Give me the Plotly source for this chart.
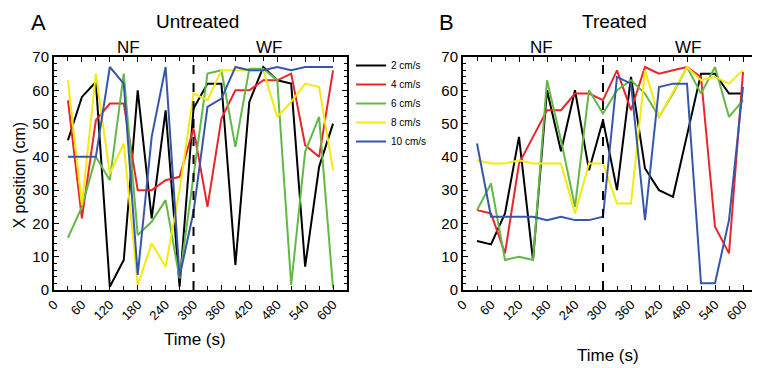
import plotly.graph_objects as go

time_s = [30, 60, 90, 120, 150, 180, 210, 240, 270, 300,
          330, 360, 390, 420, 450, 480, 510, 540, 570, 600]
x_ticks = [0, 60, 120, 180, 240, 300, 360, 420, 480, 540, 600]
series_names = ["2 cm/s", "4 cm/s", "6 cm/s", "8 cm/s", "10 cm/s"]
series_colors = ["#000000", "#e8262b", "#62b947", "#f5e90f", "#3657a8"]

# Untreated (panel A)
untreated_2 = [45, 58, 62.5, 1, 9, 60, 21.5, 54, 1, 54.5, 62, 62, 7.5, 56.5, 67, 63, 62, 7, 37, 50]
untreated_4 = [57, 21.5, 51, 56, 56, 30, 30, 33, 34, 48.5, 25, 51.5, 60, 60, 63, 63, 65, 43.5, 40, 66]
untreated_6 = [15.7, 25, 40, 33, 65, 16.5, 20.5, 27, 3.5, 35, 65, 66, 43, 66.5, 66.5, 63, 1.5, 41.5, 52, 0.5]
untreated_8 = [63, 25.5, 65, 35, 44, 1.5, 14, 7, 30, 59, 57, 66, 66, 66, 66, 52, 56.5, 62, 61, 36]
untreated_10 = [40, 40, 40, 67, 62, 4.5, 46, 67, 4, 23.5, 55, 57.5, 67, 66, 66, 67, 66, 67, 67, 67]

# Treated (panel B)
treated_2 = [14.7, 13.7, 23, 46, 9, 60, 41.7, 60, 36, 51, 30, 64, 36.5, 30, 28, 47, 65, 65, 59, 59]
treated_4 = [24, 23, 11, 38, 46, 54, 54, 59, 59, 57, 66, 54, 67, 65, 66, 67, 64, 19, 11, 65.5]
treated_6 = [24, 32, 9, 10, 9, 63, 45, 25, 60, 53, 60, 63, 59, 52, 59, 67, 59, 67, 52, 57]
treated_8 = [39, 38, 38, 39, 38, 38, 38, 23, 38, 38, 26, 26, 66, 52, 59.5, 67, 63, 64, 62, 66]
treated_10 = [44, 22, 22, 22, 22, 21, 22, 21, 21, 22, 64, 62, 21, 61, 62, 62, 2, 2, 21, 61]

untreated = [untreated_2, untreated_4, untreated_6, untreated_8, untreated_10]
treated = [treated_2, treated_4, treated_6, treated_8, treated_10]

# The page body has an 8px default margin; size the figure so that it
# fills the 760x368 window from that offset.
BODY = 8
W, H = 760 - BODY, 368 - BODY
FONT = "Arial, Liberation Sans, sans-serif"


def xp(px):
    return (px - BODY) / W


def yp(py):
    return 1 - (py - BODY) / H


fig = go.Figure()
for name, color, vals in zip(series_names, series_colors, untreated):
    fig.add_trace(go.Scatter(x=time_s, y=vals, mode="lines", name=name,
                             line=dict(color=color, width=2),
                             xaxis="x", yaxis="y", showlegend=True))
for name, color, vals in zip(series_names, series_colors, treated):
    fig.add_trace(go.Scatter(x=time_s, y=vals, mode="lines", name=name,
                             line=dict(color=color, width=2),
                             xaxis="x2", yaxis="y2", showlegend=False))

ydom = [yp(290), yp(57)]


def xaxis(domain, anchor):
    return dict(domain=domain, anchor=anchor, range=[0, 630], automargin=False,
                tickvals=x_ticks, ticktext=[str(v) for v in x_ticks],
                tickangle=-45, ticks="inside", ticklen=5, tickwidth=1.2,
                tickcolor="black", showline=True, linecolor="black",
                linewidth=2, mirror="ticks", showgrid=False, zeroline=False,
                minor=dict(dtick=30, tick0=0, ticks="inside", ticklen=4,
                           tickcolor="black", tickwidth=1.2),
                tickfont=dict(size=13, color="black", family=FONT))


def yaxis(anchor):
    return dict(domain=ydom, anchor=anchor, range=[0, 70], dtick=10,
                automargin=False,
                ticks="inside", ticklen=5, tickwidth=1.2, tickcolor="black",
                showline=True, linecolor="black", linewidth=2,
                mirror="ticks", showgrid=False, zeroline=False,
                minor=dict(dtick=2, ticks="inside", ticklen=3,
                           tickcolor="black", tickwidth=1.2),
                tickfont=dict(size=15, color="black", family=FONT))


fig.update_layout(
    width=W, height=H,
    margin=dict(l=0, r=0, t=0, b=0, pad=0, autoexpand=False),
    paper_bgcolor="white", plot_bgcolor="white",
    font=dict(family=FONT, color="black"),
    xaxis=xaxis([xp(54), xp(347)], "y"),
    yaxis=yaxis("x"),
    xaxis2=xaxis([xp(463), xp(757)], "y2"),
    yaxis2=yaxis("x2"),
    legend=dict(x=xp(351), y=yp(51), xanchor="left", yanchor="top",
                font=dict(size=10, family=FONT), bgcolor="rgba(0,0,0,0)",
                tracegroupgap=0, itemwidth=30),
)

for xr in ["x", "x2"]:
    yr = "y" if xr == "x" else "y2"
    fig.add_shape(type="line", xref=xr, yref=yr + " domain", x0=300, x1=300,
                  y0=0, y1=1, line=dict(color="black", width=2, dash="dash"))


def ann(text, x, y, size, **kw):
    opts = dict(xanchor="center", yanchor="middle")
    opts.update(kw)
    fig.add_annotation(text=text, x=xp(x), y=yp(y), xref="paper", yref="paper",
                       showarrow=False, font=dict(size=size, family=FONT, color="black"),
                       **opts)


# labels near the figure edges hang from that edge so nothing is clipped
ann("A", 38, BODY, 22, yanchor="top")
ann("Untreated", 197, BODY + 1, 19, yanchor="top")
ann("B", 446, BODY, 22, yanchor="top")
ann("Treated", 614, BODY + 1, 19, yanchor="top")
ann("NF", 129, 47, 17)
ann("WF", 269, 47, 17)
ann("NF", 541, 47, 17)
ann("WF", 688, 47, 17)
ann("Time (s)", 195, 339, 17)
ann("Time (s)", 608, 355, 17)
ann("X position (cm)", BODY, 175, 16, textangle=-90, xanchor="left")

fig.write_html("out.html")
